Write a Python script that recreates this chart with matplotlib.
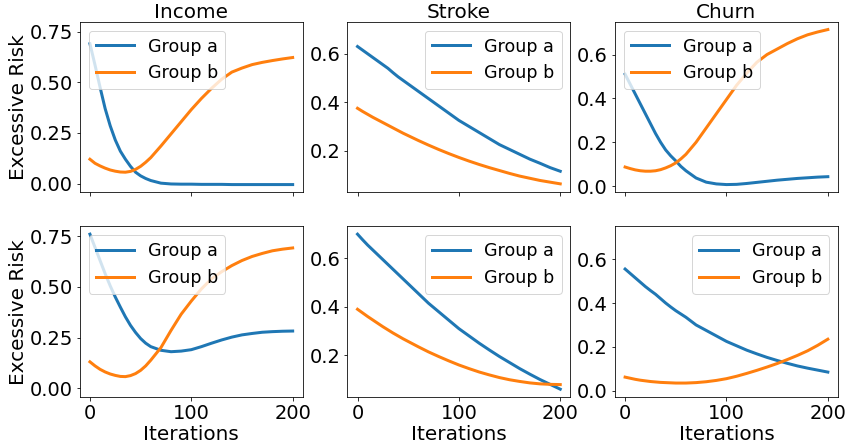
import matplotlib
matplotlib.use("Agg")
import matplotlib.pyplot as plt

iters = [0, 5, 10, 15, 20, 25, 30, 35, 40, 45, 50, 55, 60,
         70, 80, 90, 100, 110, 120, 130, 140, 150, 160, 170, 180, 190, 200]

titles = ["Income", "Stroke", "Churn"]

# top row
income_a_top = [0.69, 0.585, 0.475, 0.37, 0.285, 0.215, 0.16, 0.12, 0.085, 0.056, 0.038, 0.025, 0.015,
                0.002, -0.002, -0.003, -0.003, -0.004, -0.004, -0.004, -0.005, -0.005, -0.005,
                -0.005, -0.005, -0.005, -0.005]
income_b_top = [0.12, 0.10, 0.087, 0.076, 0.067, 0.061, 0.057, 0.056, 0.06, 0.07, 0.085, 0.105, 0.128,
                0.185, 0.245, 0.305, 0.365, 0.42, 0.47, 0.515, 0.55, 0.57, 0.587,
                0.598, 0.607, 0.615, 0.622]
stroke_a_top = [0.63, 0.615, 0.60, 0.585, 0.57, 0.555, 0.54, 0.522, 0.505, 0.49, 0.475, 0.46, 0.445,
                0.415, 0.385, 0.355, 0.325, 0.30, 0.275, 0.25, 0.225, 0.205, 0.185,
                0.165, 0.148, 0.13, 0.115]
stroke_b_top = [0.375, 0.362, 0.35, 0.338, 0.327, 0.316, 0.305, 0.294, 0.283, 0.272, 0.262, 0.252, 0.242,
                0.223, 0.205, 0.188, 0.172, 0.157, 0.143, 0.13, 0.118, 0.106, 0.095,
                0.086, 0.077, 0.07, 0.063]
churn_a_top = [0.51, 0.465, 0.42, 0.375, 0.33, 0.285, 0.24, 0.2, 0.165, 0.138, 0.115, 0.09, 0.07,
               0.037, 0.018, 0.01, 0.007, 0.008, 0.012, 0.017, 0.022, 0.027, 0.031,
               0.035, 0.038, 0.041, 0.043]
churn_b_top = [0.087, 0.08, 0.074, 0.07, 0.068, 0.068, 0.07, 0.075, 0.083, 0.093, 0.106, 0.124, 0.145,
               0.20, 0.265, 0.33, 0.395, 0.46, 0.515, 0.565, 0.60, 0.625, 0.65,
               0.672, 0.69, 0.703, 0.714]

# bottom row
income_a_bot = [0.76, 0.695, 0.63, 0.565, 0.505, 0.45, 0.40, 0.352, 0.31, 0.275, 0.245, 0.222, 0.205,
                0.187, 0.18, 0.183, 0.19, 0.205, 0.222, 0.238, 0.252, 0.263, 0.27,
                0.276, 0.279, 0.281, 0.282]
income_b_bot = [0.13, 0.11, 0.093, 0.08, 0.07, 0.063, 0.058, 0.057, 0.062, 0.072, 0.088, 0.11, 0.138,
                0.20, 0.285, 0.365, 0.43, 0.49, 0.54, 0.575, 0.605, 0.63, 0.65,
                0.665, 0.678, 0.686, 0.692]
stroke_a_bot = [0.70, 0.677, 0.655, 0.635, 0.615, 0.595, 0.575, 0.555, 0.535, 0.515, 0.495, 0.475, 0.455,
                0.415, 0.38, 0.345, 0.31, 0.28, 0.25, 0.222, 0.195, 0.17, 0.145,
                0.122, 0.10, 0.08, 0.06]
stroke_b_bot = [0.39, 0.375, 0.36, 0.346, 0.332, 0.318, 0.305, 0.292, 0.28, 0.268, 0.257, 0.246, 0.235,
                0.214, 0.195, 0.177, 0.16, 0.145, 0.131, 0.119, 0.108, 0.099, 0.092,
                0.086, 0.082, 0.08, 0.079]
churn_a_bot = [0.555, 0.535, 0.515, 0.495, 0.475, 0.457, 0.44, 0.42, 0.40, 0.382, 0.365, 0.35, 0.335,
               0.30, 0.275, 0.25, 0.225, 0.205, 0.185, 0.168, 0.152, 0.138, 0.125,
               0.113, 0.103, 0.094, 0.085]
churn_b_bot = [0.062, 0.057, 0.052, 0.048, 0.045, 0.042, 0.04, 0.038, 0.037, 0.036, 0.035, 0.035, 0.035,
               0.037, 0.041, 0.047, 0.055, 0.066, 0.079, 0.093, 0.108, 0.124, 0.142,
               0.161, 0.182, 0.207, 0.235]

series = [
    [(income_a_top, income_b_top), (stroke_a_top, stroke_b_top), (churn_a_top, churn_b_top)],
    [(income_a_bot, income_b_bot), (stroke_a_bot, stroke_b_bot), (churn_a_bot, churn_b_bot)],
]
legend_locs = [["upper left", "upper right", "upper left"],
               ["upper left", "upper right", "upper right"]]

plt.rcParams["font.size"] = 20
plt.rcParams["xtick.labelsize"] = 19.5
plt.rcParams["ytick.labelsize"] = 19.5

# drawn at 72 dpi so that points and pixels coincide
fig, axes = plt.subplots(2, 3, figsize=(849 / 72, 445 / 72), dpi=72, sharex="all", sharey="col")
fig.subplots_adjust(left=0.094, right=0.987, top=0.951, bottom=0.108, wspace=0.2, hspace=0.2)

for r in range(2):
    for c in range(3):
        ax = axes[r, c]
        a, b = series[r][c]
        ax.plot(iters, a, color="#1f77b4", lw=3, label="Group a")
        ax.plot(iters, b, color="#ff7f0e", lw=3, label="Group b")
        ax.legend(loc=legend_locs[r][c], fontsize=17.5, handlelength=2.2)
        if r == 0:
            ax.set_title(titles[c], fontsize=20, pad=2)
        else:
            ax.set_xlabel("Iterations", labelpad=2)
        if c == 0:
            ax.set_ylabel("Excessive Risk", labelpad=1)

axes[0, 0].set_yticks([0.0, 0.25, 0.5, 0.75])
axes[0, 1].set_yticks([0.2, 0.4, 0.6])
axes[0, 2].set_yticks([0.0, 0.2, 0.4, 0.6])
axes[1, 0].set_xticks([0, 100, 200])

fig.savefig("out.png", dpi=72)
